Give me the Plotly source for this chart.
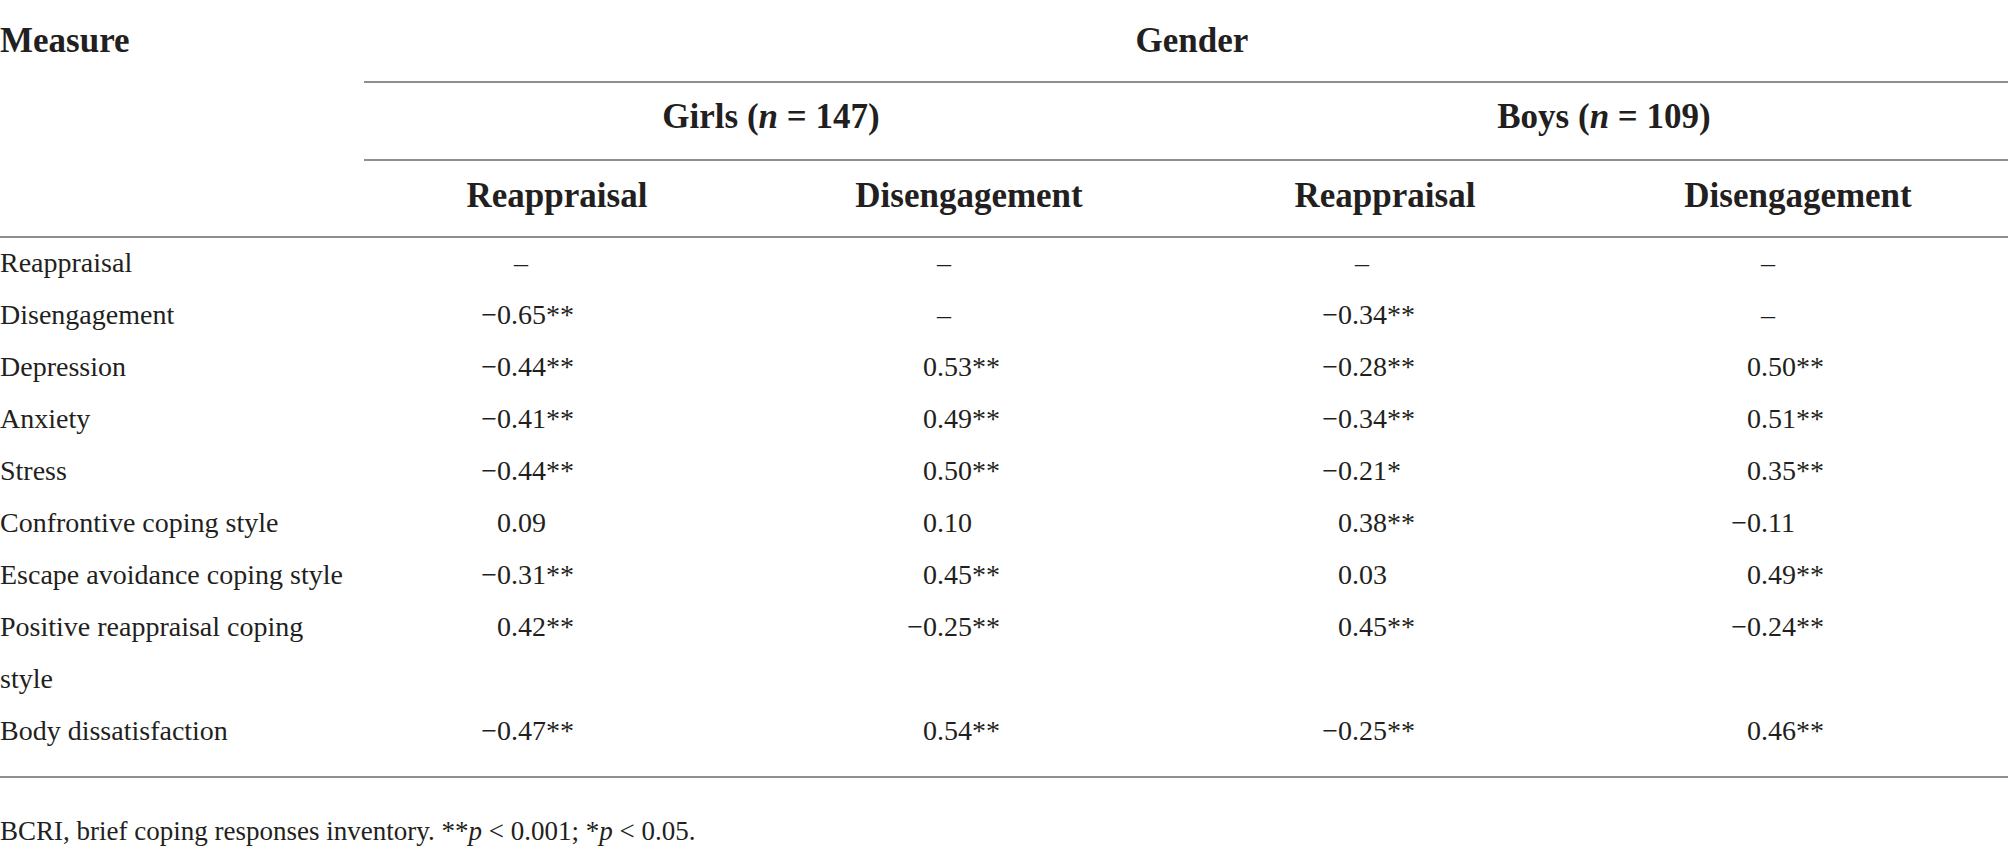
import plotly.graph_objects as go

# Dados da tabela: correlacoes BCRI por genero
measures = [
    "Reappraisal",
    "Disengagement",
    "Depression",
    "Anxiety",
    "Stress",
    "Confrontive coping style",
    "Escape avoidance coping style",
    "Positive reappraisal coping\nstyle",
    "Body dissatisfaction",
]

girls_reappraisal = [None, -0.65, -0.44, -0.41, -0.44, 0.09, -0.31, 0.42, -0.47]
girls_reappraisal_sig = ["", "**", "**", "**", "**", "", "**", "**", "**"]
girls_disengagement = [None, None, 0.53, 0.49, 0.50, 0.10, 0.45, -0.25, 0.54]
girls_disengagement_sig = ["", "", "**", "**", "**", "", "**", "**", "**"]
boys_reappraisal = [None, -0.34, -0.28, -0.34, -0.21, 0.38, 0.03, 0.45, -0.25]
boys_reappraisal_sig = ["", "**", "**", "**", "*", "**", "", "**", "**"]
boys_disengagement = [None, None, 0.50, 0.51, 0.35, -0.11, 0.49, -0.24, 0.46]
boys_disengagement_sig = ["", "", "**", "**", "**", "", "**", "**", "**"]

group_labels = ["Girls (<i>n</i> = 147)", "Boys (<i>n</i> = 109)"]
column_labels = ["Reappraisal", "Disengagement", "Reappraisal", "Disengagement"]
footnote = "BCRI, brief coping responses inventory. **<i>p</i> &lt; 0.001; *<i>p</i> &lt; 0.05."

# Estilo
FONT = "Liberation Serif"
INK = "#231f20"
RULE = "#8f8f8f"
W, H = 2008, 856
BODY = 28
HEAD = 35

# posicoes (px) - baseline das linhas de texto
row_base = 271.7
row_step = 52.0
col_dot = [511, 937, 1352, 1761]     # alinhamento pelo ponto decimal
col_dash = [521, 944, 1362, 1768]
col_head_x = [557, 969, 1385, 1798]
group_x = [771, 1604]


def mid(baseline, size):
    # plotly coloca a baseline 0.25*fontsize abaixo do ponto (textposition middle)
    return baseline - 0.25 * size


fig = go.Figure()


def add_text(x, y, text, pos, size=BODY, bold=False):
    fig.add_trace(go.Scatter(
        x=x, y=y, text=text, mode="text", textposition=pos,
        textfont=dict(family=FONT, size=size, color=INK,
                      weight="bold" if bold else "normal"),
        hoverinfo="skip", showlegend=False,
    ))


# rotulos das linhas (com quebra)
slots = []
lab_y, lab_t = [], []
s = 0
for m in measures:
    slots.append(s)
    for k, part in enumerate(m.split("\n")):
        lab_y.append(mid(row_base + (s + k) * row_step, BODY))
        lab_t.append(part)
    s += len(m.split("\n"))
add_text([0] * len(lab_t), lab_y, lab_t, "middle right")

# colunas de valores
columns = [
    (girls_reappraisal, girls_reappraisal_sig),
    (girls_disengagement, girls_disengagement_sig),
    (boys_reappraisal, boys_reappraisal_sig),
    (boys_disengagement, boys_disengagement_sig),
]
for c, (vals, sig) in enumerate(columns):
    ip_y, ip_t, fr_t, d_y = [], [], [], []
    for i, v in enumerate(vals):
        y = mid(row_base + slots[i] * row_step, BODY)
        if v is None:
            d_y.append(y)
            continue
        txt = f"{abs(v):.2f}"
        a, b = txt.split(".")
        ip_y.append(y)
        ip_t.append(("\u2212" if v < 0 else "") + a)
        fr_t.append("." + b + sig[i])
    add_text([col_dot[c]] * len(ip_t), ip_y, ip_t, "middle left")
    add_text([col_dot[c]] * len(fr_t), ip_y, fr_t, "middle right")
    add_text([col_dash[c]] * len(d_y), d_y, ["\u2013"] * len(d_y), "middle center")

# cabecalho
add_text([0], [mid(52, HEAD)], ["Measure"], "middle right", HEAD, True)
add_text([1192], [mid(52, HEAD)], ["Gender"], "middle center", HEAD, True)
add_text(group_x, [mid(128, HEAD)] * 2, group_labels, "middle center", HEAD, True)
add_text(col_head_x, [mid(207, HEAD)] * 4, column_labels, "middle center", HEAD, True)

# nota de rodape
add_text([0], [mid(840, 27)], [footnote], "middle right", 27)

# filetes horizontais
rules = [(364, W, 82), (364, W, 160), (0, W, 237), (0, W, 777)]
shapes = [
    dict(type="line", xref="x", yref="y", x0=x0, x1=x1, y0=y, y1=y,
         line=dict(color=RULE, width=2))
    for x0, x1, y in rules
]

fig.update_layout(
    width=W, height=H,
    margin=dict(l=0, r=0, t=0, b=0),
    paper_bgcolor="white", plot_bgcolor="white",
    xaxis=dict(range=[0, W], visible=False, fixedrange=True),
    yaxis=dict(range=[H, 0], visible=False, fixedrange=True),
    shapes=shapes,
)

fig.write_html("out.html", config={"displayModeBar": False},
               post_script="document.body.style.margin='0';")
